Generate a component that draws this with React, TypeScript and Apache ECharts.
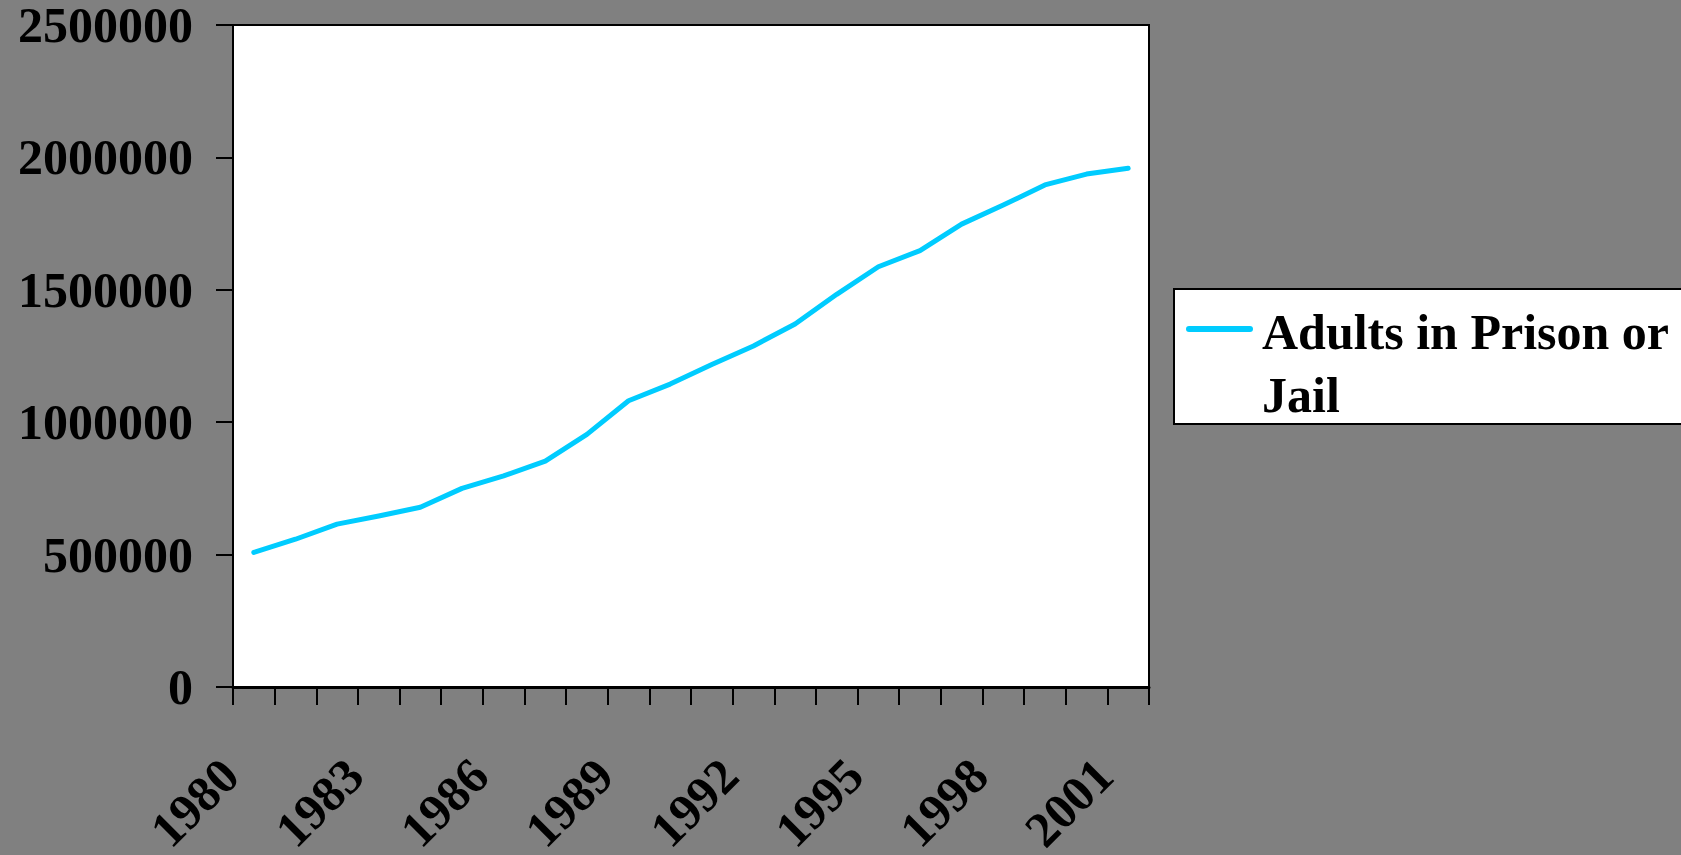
import React, { useEffect, useRef } from "react";
import * as echarts from "echarts";

const years = [
  "1980", "1981", "1982", "1983", "1984", "1985", "1986", "1987", "1988", "1989", "1990",
  "1991", "1992", "1993", "1994", "1995", "1996", "1997", "1998", "1999", "2000", "2001",
];
const seriesName = "Adults in Prison or Jail";
const legendLines = ["Adults in Prison or", "Jail"];
const inmates = [
  508000, 558000, 615000, 646000, 679000, 750000, 797000, 853000, 954000, 1081000, 1144000,
  1218000, 1288000, 1371000, 1483000, 1587000, 1648000, 1748000, 1820000, 1896000, 1937000, 1959000,
];
const yMin = 0;
const yMax = 2500000;
const yStep = 500000;

const FONT = '"Liberation Serif", "Times New Roman", serif';
const LINE_COLOR = "#00CCFF";

export default function App() {
  const ref = useRef<HTMLDivElement>(null);
  useEffect(() => {
    if (!ref.current) return;
    const chart = echarts.init(ref.current, null, { renderer: "svg" });
    chart.setOption({
      animation: false,
      backgroundColor: "#808080",
      grid: {
        left: 233,
        top: 25,
        right: 532,
        bottom: 168,
        show: true,
        backgroundColor: "#ffffff",
        borderColor: "#000000",
        borderWidth: 2,
        containLabel: false,
        outerBoundsMode: "none",
      },
      xAxis: {
        type: "category",
        data: years,
        boundaryGap: true,
        axisLine: { show: true, lineStyle: { color: "#000", width: 3 } },
        axisTick: { show: true, interval: 0, length: 18, lineStyle: { color: "#000", width: 2 } },
        axisLabel: {
          interval: 2,
          rotate: 45,
          margin: 56,
          padding: [0, 34, 0, 0],
          color: "#000",
          fontFamily: FONT,
          fontWeight: "bold",
          fontSize: 50,
        },
        splitLine: { show: false },
      },
      yAxis: {
        type: "value",
        min: yMin,
        max: yMax,
        interval: yStep,
        axisLine: { show: true, lineStyle: { color: "#000", width: 2 } },
        axisTick: { show: true, length: 17, lineStyle: { color: "#000", width: 2 } },
        axisLabel: {
          margin: 40,
          color: "#000",
          fontFamily: FONT,
          fontWeight: "bold",
          fontSize: 50,
          formatter: (v: number) => String(v),
        },
        splitLine: { show: false },
      },
      series: [
        {
          name: seriesName,
          type: "line",
          data: inmates,
          showSymbol: false,
          symbol: "none",
          lineStyle: { color: LINE_COLOR, width: 5, cap: "round", join: "round" },
          itemStyle: { color: LINE_COLOR },
        },
      ],
      graphic: [
        {
          type: "group",
          left: 1173,
          top: 288,
          children: [
            {
              type: "rect",
              shape: { x: 0, y: 0, width: 600, height: 135 },
              style: { fill: "#ffffff", stroke: "#000000", lineWidth: 2 },
            },
            {
              type: "line",
              shape: { x1: 15, y1: 40, x2: 76, y2: 40 },
              style: { stroke: LINE_COLOR, lineWidth: 6, lineCap: "round" },
            },
            {
              type: "text",
              x: 88,
              y: 11,
              style: {
                text: legendLines.join("\n"),
                fill: "#000",
                font: `bold 50px ${FONT}`,
                lineHeight: 63,
                verticalAlign: "top",
                align: "left",
              },
            },
          ],
        },
      ],
    });
    return () => chart.dispose();
  }, []);
  return (
    <div
      ref={ref}
      style={{ position: "fixed", left: 0, top: 0, width: 1681, height: 855, background: "#808080" }}
    />
  );
}
